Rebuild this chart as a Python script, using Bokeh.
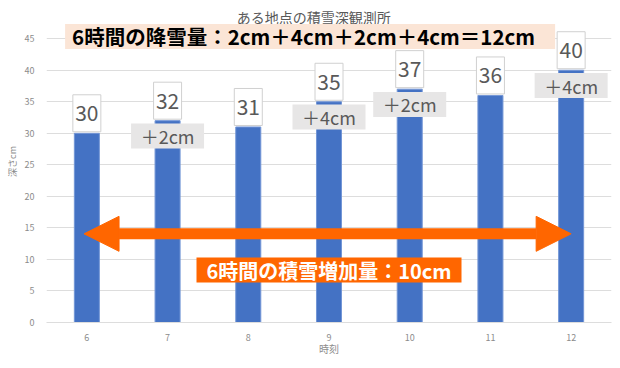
import numpy as np
from bokeh.plotting import figure
from bokeh.models import Range1d, FixedTicker, Arrow, NormalHead
from bokeh.core.properties import value
from bokeh.embed import file_html
from bokeh.resources import INLINE

# ---- data ----
hours = [6, 7, 8, 9, 10, 11, 12]
depth = [30, 32, 31, 35, 37, 36, 40]
y_ticks = [0, 5, 10, 15, 20, 25, 30, 35, 40, 45]
title_text = "ある地点の積雪深観測所"
x_title = "時刻"
y_title = "深さcm"

FONT = "Noto Sans CJK JP"
PX = 6.307            # pixels per cm
FRAME_H = 322
Y_END = FRAME_H / PX

diffs = np.diff(depth)
snow_hours = [h for h, d in zip(hours[1:], diffs) if d > 0]
snow_amounts = [int(d) for d in diffs if d > 0]
snow_tops = [depth[hours.index(h)] for h in snow_hours]
total_snow = sum(snow_amounts)
increase = depth[-1] - depth[0]

top_text = "6時間の降雪量：" + "＋".join(f"{s}cm" for s in snow_amounts) + f"＝{total_snow}cm"
bottom_text = f"6時間の積雪増加量：{increase}cm"

p = figure(width=612, height=360, x_range=Range1d(5.5, 12.5), y_range=Range1d(0, Y_END),
           output_backend="svg", toolbar_location=None,
           min_border_left=46, min_border_right=1, min_border_top=0, min_border_bottom=38)
p.outline_line_color = None
p.background_fill_color = "white"

# axes
p.yaxis.ticker = FixedTicker(ticks=y_ticks)
p.xaxis.ticker = FixedTicker(ticks=hours)
p.xgrid.grid_line_color = None
p.ygrid.grid_line_color = "#DDDDDD"
for ax in (p.xaxis[0], p.yaxis[0]):
    ax.major_tick_line_color = None
    ax.minor_tick_line_color = None
    ax.major_label_text_font = FONT
    ax.major_label_text_font_size = "9px"
    ax.major_label_text_color = "#8C8C8C"
    ax.axis_label_text_font = FONT
    ax.axis_label_text_color = "#8C8C8C"
    ax.axis_label_text_font_style = "normal"
p.yaxis.axis_line_color = None
p.xaxis.axis_line_color = "#DDDDDD"
p.xaxis.axis_label = x_title
p.yaxis.axis_label = y_title
p.xaxis.axis_label_text_font_size = "10px"
p.yaxis.axis_label_text_font_size = "9px"
p.yaxis.major_label_standoff = 6
p.xaxis.major_label_standoff = 5
p.xaxis.axis_label_standoff = -3
p.yaxis.axis_label_standoff = 3

# chart title
p.text(x=[8.81], y=[48.5], text=[title_text], text_font=value(FONT), text_font_size="14px",
       text_color="#595959", text_align="center", text_baseline="middle")

# bars
p.vbar(x=hours, top=depth, width=0.31, fill_color="#4472C4", line_color="#7396D6", line_width=1)

# grey increment boxes
grey_y = [v - 15.3 / PX for v in snow_tops]
p.rect(x=snow_hours, y=grey_y, width=73, height=25, width_units="screen", height_units="screen",
       fill_color="#E7E6E6", line_color=None)
p.text(x=snow_hours, y=grey_y, text=[f"＋{s}cm" for s in snow_amounts],
       text_font=value(FONT), text_font_size="18px", text_color="#595959",
       text_align="center", text_baseline="middle")

# white value labels
lab_y = [v + 20 / PX for v in depth]
p.rect(x=hours, y=lab_y, width=28, height=37, width_units="screen", height_units="screen",
       fill_color="white", line_color="#D0D0D0", line_width=1)
p.text(x=hours, y=lab_y, text=[str(v) for v in depth],
       text_font=value(FONT), text_font_size="21px", text_color="#595959",
       text_align="center", text_baseline="middle")

# arrow
orange = "#FF6600"
arrow_y = 14.06
p.add_layout(Arrow(x_start=hours[0] - 0.035, y_start=arrow_y, x_end=hours[-1], y_end=arrow_y,
                   line_width=11, line_color=orange,
                   start=NormalHead(size=35, fill_color=orange, line_color=orange),
                   end=NormalHead(size=35, fill_color=orange, line_color=orange)))

# orange label
mid_x = (hours[0] + hours[-1]) / 2
p.rect(x=[mid_x], y=[8.32], width=265, height=25, width_units="screen", height_units="screen",
       fill_color=orange, line_color=None)
p.text(x=[mid_x], y=[8.32], text=[bottom_text], text_font=value(FONT), text_font_size="20px",
       text_font_style="bold", text_color="white", text_align="center", text_baseline="middle")

# peach top box
peach_x = 8.766
peach_y = 45.36
p.rect(x=[peach_x], y=[peach_y], width=490, height=25, width_units="screen", height_units="screen",
       fill_color="#FBE5D6", line_color=None)
p.text(x=[peach_x], y=[peach_y], x_offset=-238, text=[top_text], text_font=value(FONT),
       text_font_size="20.5px", text_font_style="bold", text_color="black",
       text_align="left", text_baseline="middle")

open("out.html", "w").write(file_html(p, INLINE))
